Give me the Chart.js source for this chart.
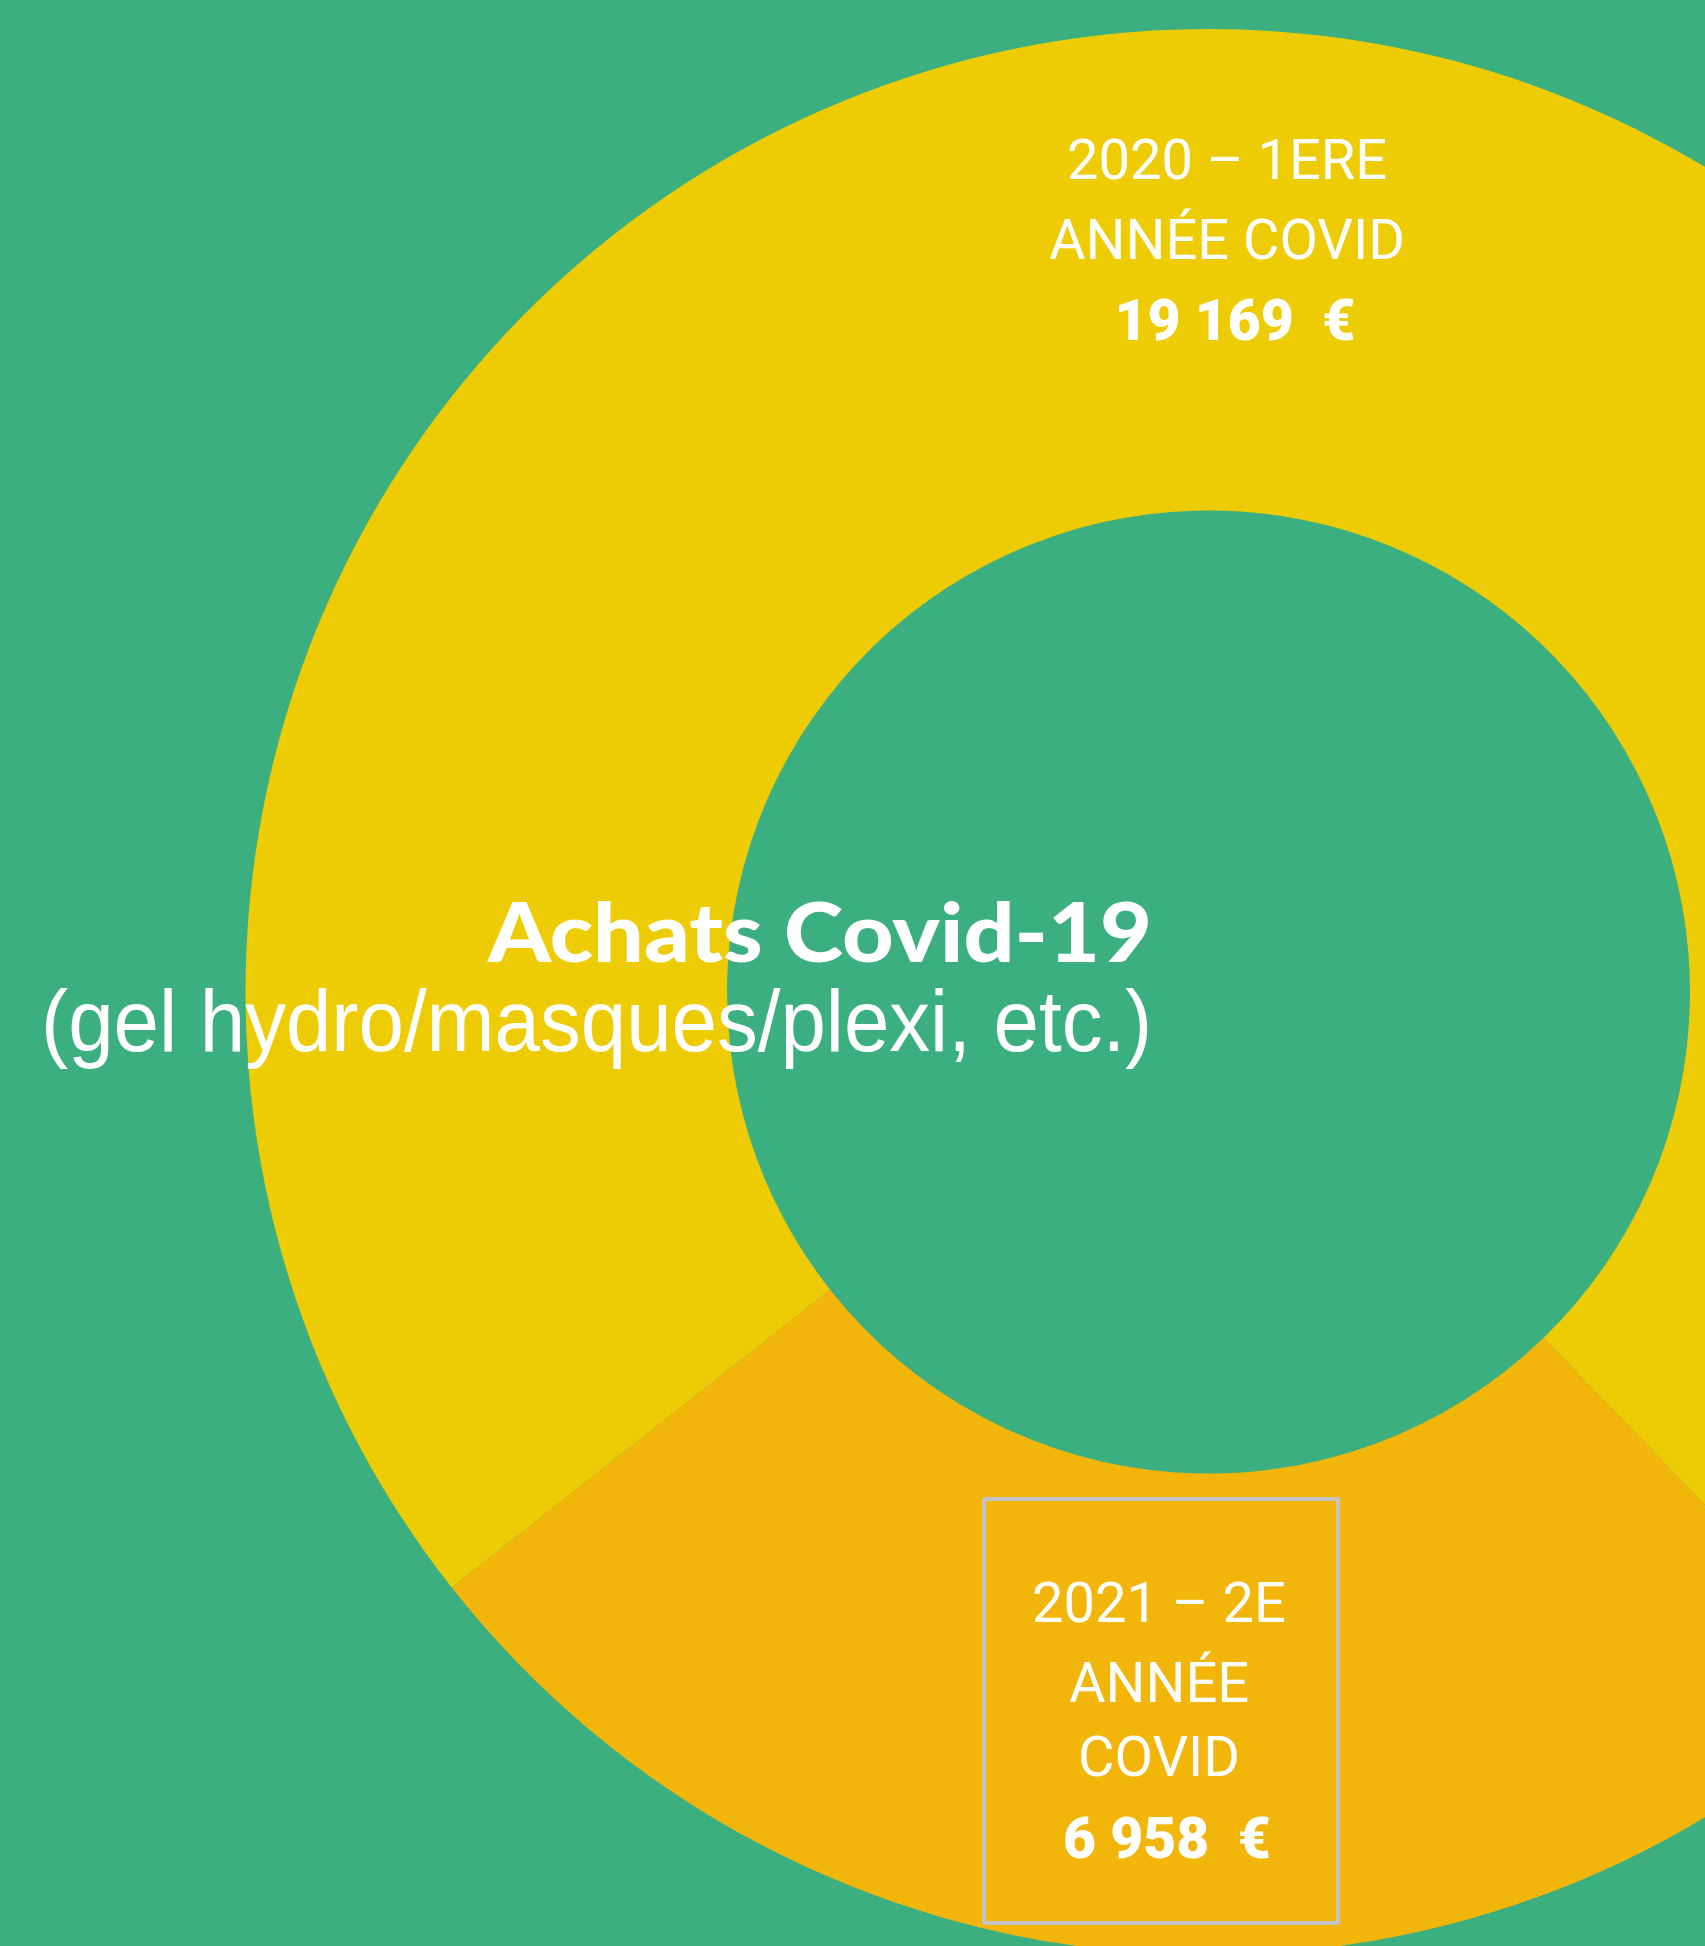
<!DOCTYPE html>
<html><head><meta charset="utf-8">
<script src="https://cdn.jsdelivr.net/npm/chart.js@4.4.1/dist/chart.umd.min.js"></script>
<style>
html,body{margin:0;padding:0;background:#3CAF80;width:1705px;height:1946px;overflow:hidden}
#c{position:absolute;left:0;top:0}
.t{position:absolute;color:#fff;white-space:pre;line-height:1;}
.t .m{display:inline-block;width:0;height:0}
.lab{font-family:Roboto,"Liberation Sans",sans-serif;font-size:56px;font-weight:400;}
.num{font-family:Roboto,"Liberation Sans",sans-serif;font-size:57px;font-weight:900;}
.title{font-family:Lato,"Open Sans","DejaVu Sans",sans-serif;font-weight:900;font-size:81px;}
.sub{font-family:"Liberation Sans",Arial,sans-serif;font-weight:400;font-size:88px;}
#box{position:absolute;left:982px;top:1497px;width:358px;height:428px;box-sizing:border-box;border:4px solid #C4C4C4;border-radius:3px}
</style></head><body>
<canvas id="c" width="1705" height="1946"></canvas>
<div id="box"></div>
<div id="labels"></div>
<script>
const title = "Achats Covid-19";
const subtitle = "(gel hydro/masques/plexi, etc.)";
const categories = ["2020 – 1ERE ANNÉE COVID", "2021 – 2E ANNÉE COVID"];
const categoryLines = [["2020 – 1ERE", "ANNÉE COVID"], ["2021 – 2E", "ANNÉE", "COVID"]];
const values = [19169, 6958];
const currency = "€";

const sliceColors = ["#EECC05", "#F2B50A"];

function fmt(v){ return String(v).replace(/\B(?=(\d{3})+(?!\d))/g, "\u00A0") + "\u00A0 " + currency; }

new Chart(document.getElementById('c').getContext('2d'), {
  type: 'doughnut',
  data: { labels: categories, datasets: [{ data: values, backgroundColor: sliceColors, borderWidth: 0 }] },
  options: {
    responsive: false, animation: false,
    rotation: 231.8, cutout: '50%', radius: 963,
    layout: { padding: { left: 712, right: 0, top: 38, bottom: 0 } },
    plugins: { legend: { display: false }, tooltip: { enabled: false } }
  }
});

// label layout (page coordinates): anchor = 'c' (centre x) or 'r' (right x), baseline y, optional target width
const L = document.getElementById('labels');
const items = [];
function add(cls, text, anchor, x, baseline, width){
  const d = document.createElement('div'); d.className = 't ' + cls;
  const s = document.createElement('span'); s.textContent = text;
  const m = document.createElement('span'); m.className = 'm';
  d.appendChild(s); d.appendChild(m); L.appendChild(d);
  items.push({d, s, m, anchor, x, baseline, width});
}
const s0 = [179, 259];
categoryLines[0].forEach((t,i)=> add('lab', t, 'c', 1227, s0[i]));
add('num', fmt(values[0]), 'c', 1235, 340);
const s1 = [1622, 1702, 1776];
categoryLines[1].forEach((t,i)=> add('lab', t, 'c', 1159, s1[i]));
add('num', fmt(values[1]), 'c', 1167, 1858);
add('title', title, 'r', 1152, 962, 664);
add('sub', subtitle, 'r', 1152, 1051, 1111);

function layout(){
  items.forEach(it => {
    const d = it.d;
    d.style.transform = 'none';
    d.style.left = '0px'; d.style.top = '0px';
    const w = it.s.offsetWidth;
    const base = it.m.offsetTop;
    let sx = 1;
    if (it.width) sx = it.width / w;
    const ww = w * sx;
    const left = it.anchor === 'c' ? it.x - ww / 2 : it.x - ww;
    d.style.transformOrigin = '0 0';
    d.style.transform = 'scaleX(' + sx + ')';
    d.style.left = left + 'px';
    d.style.top = (it.baseline - base) + 'px';
  });
}
layout();
if (document.fonts && document.fonts.ready) document.fonts.ready.then(layout);
</script>
</body></html>
